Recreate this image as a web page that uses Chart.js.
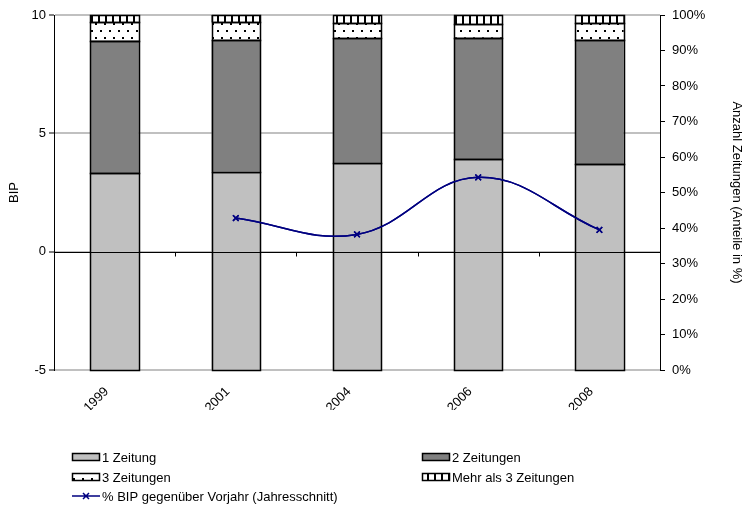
<!DOCTYPE html>
<html>
<head>
<meta charset="utf-8">
<script src="https://cdn.jsdelivr.net/npm/chart.js@4.4.1/dist/chart.umd.min.js"></script>
<style>
  html, body { margin: 0; padding: 0; background: #fff; }
  canvas { display: block; }
</style>
</head>
<body>
<canvas id="zeitungChart" width="743" height="507"></canvas>
<script>
// Values
const years = ['1999', '2001', '2004', '2006', '2008'];
const oneNewspaper = [55.5, 55.9, 58.4, 59.4, 57.9];     // % share
const twoNewspapers = [37.3, 37.1, 35.1, 34.2, 35.1];
const threeNewspapers = [5.1, 5.0, 4.2, 3.9, 4.7];
const moreThanThree = [2.1, 2.0, 2.3, 2.5, 2.3];
const gdpChange = [null, 1.42, 0.73, 3.14, 0.92];        // % BIP vs. Vorjahr
const leftTicks = [-5, 0, 5, 10];
const rightTicks = [0, 10, 20, 30, 40, 50, 60, 70, 80, 90, 100];

const FONT = 'Arial, "Liberation Sans", sans-serif';

function dotPattern() {
    const c = document.createElement('canvas');
    c.width = 9; c.height = 14;
    const g = c.getContext('2d');
    g.fillStyle = '#fff';
    g.fillRect(0, 0, 9, 14);
    g.fillStyle = '#000';
    g.fillRect(1, 2, 2, 2);
    g.fillRect(5, 9, 2, 2);
    return g.createPattern(c, 'repeat');
}

function stripePattern() {
    const c = document.createElement('canvas');
    c.width = 7; c.height = 7;
    const g = c.getContext('2d');
    g.fillStyle = '#fff';
    g.fillRect(0, 0, 7, 7);
    g.fillStyle = '#000';
    g.fillRect(0, 0, 2, 7);
    return g.createPattern(c, 'repeat');
}

const crisp = v => Math.round(v) + 0.5;

// bar outlines, zero line, category ticks on it, and the legend
const extras = {
    id: 'extras',
    afterDatasetsDraw(chart) {
        const ctx = chart.ctx;
        const area = chart.chartArea;
        const x = chart.scales.x;
        ctx.save();
        ctx.strokeStyle = '#000';
        ctx.lineWidth = 1.5;
        chart.data.datasets.forEach((d, i) => {
            if (d.type !== 'bar') return;
            chart.getDatasetMeta(i).data.forEach(bar => {
                const l = crisp(bar.x - bar.width / 2);
                const r = crisp(bar.x + bar.width / 2);
                const t = crisp(bar.y);
                const b = crisp(bar.base);
                ctx.strokeRect(l, t, r - l, b - t);
            });
        });
        // redraw the line over the outlines
        chart.getDatasetMeta(0).controller.draw();

        const y0 = crisp(chart.scales.y.getPixelForValue(0));
        ctx.lineWidth = 1;
        ctx.strokeStyle = '#000';
        ctx.beginPath();
        ctx.moveTo(area.left, y0);
        ctx.lineTo(area.right, y0);
        for (let i = 1; i < years.length; i++) {
            const px = crisp((x.getPixelForValue(i - 1) + x.getPixelForValue(i)) / 2);
            ctx.moveTo(px, y0);
            ctx.lineTo(px, y0 + 4);
        }
        ctx.stroke();
        ctx.restore();
    },
    afterDraw(chart) {
        const ctx = chart.ctx;
        const ds = chart.data.datasets;
        // order in reference: 1, 2 / 3, Mehr / line
        const slots = [
            { d: ds[1], x: 72, y: 457 },
            { d: ds[2], x: 422, y: 457 },
            { d: ds[3], x: 72, y: 477 },
            { d: ds[4], x: 422, y: 477 },
            { d: ds[0], x: 72, y: 496 }
        ];
        ctx.save();
        ctx.font = '13px ' + FONT;
        ctx.textBaseline = 'middle';
        slots.forEach(s => {
            if (s.d.type === 'line') {
                ctx.strokeStyle = s.d.borderColor;
                ctx.lineWidth = 1.5;
                ctx.beginPath();
                ctx.moveTo(s.x, s.y);
                ctx.lineTo(s.x + 28, s.y);
                ctx.moveTo(s.x + 11, s.y - 3);
                ctx.lineTo(s.x + 17, s.y + 3);
                ctx.moveTo(s.x + 17, s.y - 3);
                ctx.lineTo(s.x + 11, s.y + 3);
                ctx.stroke();
            } else {
                ctx.fillStyle = s.d.backgroundColor;
                ctx.fillRect(s.x, s.y - 4, 28, 8);
                ctx.strokeStyle = '#000';
                ctx.lineWidth = 1.5;
                ctx.strokeRect(s.x + 0.5, s.y - 3.5, 27, 7);
            }
            ctx.fillStyle = '#000';
            ctx.fillText(s.d.label, s.x + 30, s.y + 1);
        });
        ctx.restore();
    }
};

const ctx = document.getElementById('zeitungChart').getContext('2d');

const barStyle = {
    type: 'bar',
    yAxisID: 'y1',
    order: 1,
    borderWidth: 0
};

new Chart(ctx, {
    data: {
        labels: years,
        datasets: [
            {
                type: 'line',
                label: '% BIP gegenüber Vorjahr (Jahresschnitt)',
                data: gdpChange,
                yAxisID: 'y',
                order: 0,
                borderColor: '#000080',
                borderWidth: 1.5,
                tension: 0.4,
                spanGaps: false,
                pointStyle: 'crossRot',
                pointRadius: 4,
                pointBorderWidth: 1.5,
                pointBorderColor: '#000080',
                pointBackgroundColor: '#000080',
                fill: false
            },
            { ...barStyle, label: '1 Zeitung', data: oneNewspaper, backgroundColor: '#c0c0c0' },
            { ...barStyle, label: '2 Zeitungen', data: twoNewspapers, backgroundColor: '#808080' },
            { ...barStyle, label: '3 Zeitungen', data: threeNewspapers, backgroundColor: dotPattern() },
            { ...barStyle, label: 'Mehr als 3 Zeitungen', data: moreThanThree, backgroundColor: stripePattern() }
        ]
    },
    options: {
        responsive: false,
        animation: false,
        layout: { padding: { top: 15, bottom: 97, left: 0, right: 0 } },
        datasets: { bar: { barPercentage: 0.4, categoryPercentage: 1 } },
        plugins: {
            legend: { display: false },
            tooltip: { enabled: false }
        },
        scales: {
            x: {
                type: 'category',
                stacked: true,
                offset: true,
                grid: { display: false },
                border: { display: false },
                ticks: {
                    color: '#000',
                    font: { size: 13, family: FONT },
                    minRotation: 45,
                    maxRotation: 45,
                    padding: 6,
                    labelOffset: -8
                },
                afterFit(scale) { scale.height = 40; }
            },
            y: {
                position: 'left',
                min: -5,
                max: 10,
                afterBuildTicks(scale) { scale.ticks = leftTicks.map(v => ({ value: v })); },
                grid: {
                    color: '#c0c0c0',
                    lineWidth: 2,
                    tickColor: '#000',
                    tickWidth: 1,
                    tickLength: 5
                },
                border: { display: true, color: '#000', width: 1 },
                ticks: {
                    color: '#000',
                    font: { size: 13, family: FONT },
                    padding: 3
                },
                title: {
                    display: true,
                    text: 'BIP',
                    color: '#000',
                    font: { size: 13, family: FONT },
                    padding: { top: 7, bottom: 0 }
                },
                afterFit(scale) { scale.width = 54; }
            },
            y1: {
                position: 'right',
                stacked: true,
                min: 0,
                max: 100,
                afterBuildTicks(scale) { scale.ticks = rightTicks.map(v => ({ value: v })); },
                grid: {
                    drawOnChartArea: false,
                    tickColor: '#000',
                    tickWidth: 1,
                    tickLength: 5
                },
                border: { display: true, color: '#000', width: 1 },
                ticks: {
                    color: '#000',
                    font: { size: 13, family: FONT },
                    padding: 7,
                    callback: v => v + '%'
                },
                title: {
                    display: true,
                    text: 'Anzahl Zeitungen (Anteile in %)',
                    color: '#000',
                    font: { size: 13, family: FONT, lineHeight: 1 },
                    padding: { top: 0, bottom: 0 }
                },
                afterFit(scale) { scale.width = 83; }
            }
        }
    },
    plugins: [extras]
});
</script>
</body>
</html>
